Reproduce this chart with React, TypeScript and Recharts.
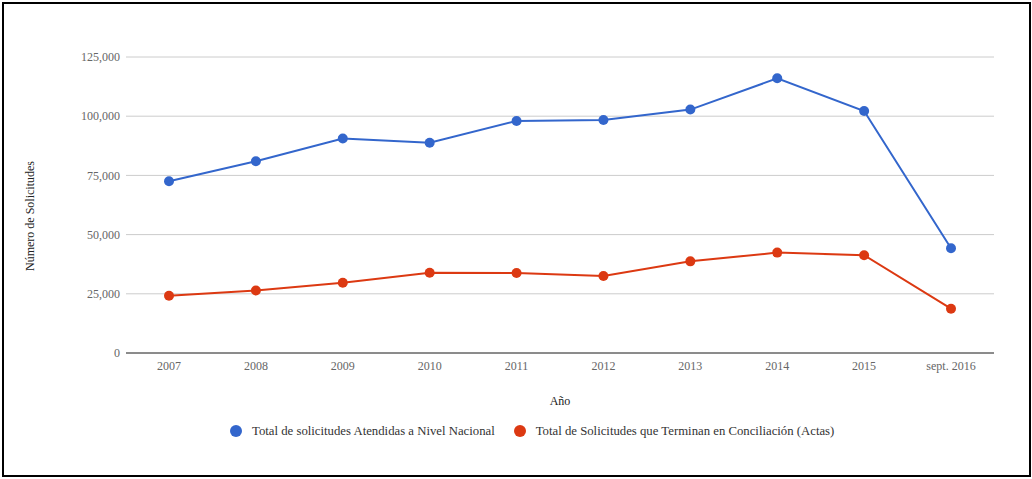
import React from 'react';
import { LineChart, Line, XAxis, YAxis, CartesianGrid, Legend, Label } from 'recharts';

const categories = ['2007', '2008', '2009', '2010', '2011', '2012', '2013', '2014', '2015', 'sept. 2016'];
const atendidas = [72500, 81000, 90600, 88800, 98000, 98400, 102800, 116000, 102200, 44200];
const conciliacion = [24200, 26400, 29700, 33900, 33800, 32500, 38700, 42400, 41300, 18700];
const yTicks = [0, 25000, 50000, 75000, 100000, 125000];

const seriesNames = {
  a: 'Total de solicitudes Atendidas a Nivel Nacional',
  c: 'Total de Solicitudes que Terminan en Conciliación (Actas)',
};
const BLUE = '#3366CC';
const RED = '#DC3912';

const data = categories.map((cat, i) => ({ cat, a: atendidas[i], c: conciliacion[i] }));

const FONT = '"Liberation Serif", "DejaVu Serif", serif';

const fmt = (v: number) => v.toLocaleString('en-US');

const LegendContent = () => (
  <div style={{ display: 'flex', alignItems: 'center', fontFamily: FONT, fontSize: 12.75, color: '#333', lineHeight: '14px' }}>
    {[
      { name: seriesNames.a, color: BLUE },
      { name: seriesNames.c, color: RED },
    ].map((it, i) => (
      <div key={i} style={{ display: 'flex', alignItems: 'center', marginRight: 19 }}>
        <svg width={12} height={12} style={{ marginRight: 10 }}>
          <circle cx={6} cy={6} r={6} fill={it.color} />
        </svg>
        <span>{it.name}</span>
      </div>
    ))}
  </div>
);

export default function App() {
  return (
    <div style={{ position: 'absolute', left: 0, top: 0, width: 1032, height: 479, background: '#fff' }}>
      <div
        style={{
          position: 'absolute',
          left: 2,
          top: 2,
          width: 1029,
          height: 475,
          border: '2px solid #000',
          boxSizing: 'border-box',
        }}
      />
      <div style={{ position: 'absolute', left: 0, top: 0 }}>
        <LineChart
          width={1032}
          height={479}
          data={data}
          margin={{ top: 57, right: 38, bottom: 60, left: 0 }}
        >
          <CartesianGrid vertical={false} stroke="#cccccc" />
          <XAxis
            dataKey="cat"
            padding={{ left: 43, right: 43 }}
            tickLine={false}
            tickSize={0}
            tickMargin={8}
            stroke="#333"
            tick={{ fill: '#666', fontSize: 12, fontFamily: FONT }}
            height={52}
            interval={0}
          >
            <Label
              value="Año"
              position="insideBottom"
              offset={0}
              style={{ fill: '#222', fontSize: 12, fontFamily: FONT }}
            />
          </XAxis>
          <YAxis
            domain={[0, 125000]}
            ticks={yTicks}
            width={126}
            axisLine={false}
            tickLine={false}
            tickSize={0}
            tickMargin={6}
            tickFormatter={fmt}
            tick={{ fill: '#666', fontSize: 12, fontFamily: FONT }}
          >
            <Label
              content={(props: any) => {
                const vb = props.viewBox || { x: 0, y: 57, width: 126, height: 295 };
                const cx = vb.x + 30;
                const cy = vb.y + vb.height / 2 + 11;
                return (
                  <text
                    x={cx}
                    y={cy}
                    transform={`rotate(-90 ${cx} ${cy})`}
                    textAnchor="middle"
                    dominantBaseline="central"
                    style={{ fill: '#222', fontSize: 12, fontFamily: FONT }}
                  >
                    Número de Solicitudes
                  </text>
                );
              }}
            />
          </YAxis>
          <Legend
            verticalAlign="bottom"
            content={<LegendContent />}
            wrapperStyle={{ left: 230, top: 424, width: 'auto', bottom: 'auto' }}
          />
          <Line
            type="linear"
            dataKey="a"
            name={seriesNames.a}
            stroke={BLUE}
            strokeWidth={2}
            dot={{ r: 5, fill: BLUE, stroke: BLUE, strokeWidth: 0 }}
            isAnimationActive={false}
          />
          <Line
            type="linear"
            dataKey="c"
            name={seriesNames.c}
            stroke={RED}
            strokeWidth={2}
            dot={{ r: 5, fill: RED, stroke: RED, strokeWidth: 0 }}
            isAnimationActive={false}
          />
        </LineChart>
      </div>
    </div>
  );
}
